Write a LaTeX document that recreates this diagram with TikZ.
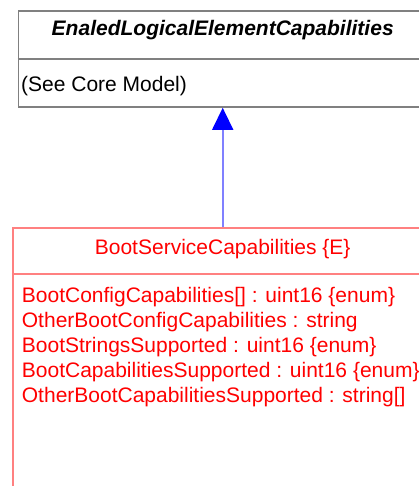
\documentclass[tikz,border=0pt]{standalone}
\usepackage{fontspec}
\setmainfont{Liberation Sans}
\usetikzlibrary{arrows.meta,positioning}
\definecolor{boxgray}{RGB}{128,128,128}
\definecolor{boxpink}{RGB}{255,128,128}
\definecolor{linkblue}{RGB}{128,128,255}

\begin{document}
\begin{tikzpicture}[x=1pt,y=1pt,
    umlbox/.style={draw,rectangle,inner sep=0pt,line width=1.6pt},
    umltext/.style={inner sep=0pt,font=\fontsize{21}{25}\selectfont},
    inherit/.style={linkblue,line width=1.6pt,-{Triangle[length=22pt,width=21pt,blue]}}]
  \useasboundingbox (0,0) rectangle (419,-486);
  \clip (0,0) rectangle (419,-486);
  % superclass
  \node[umlbox,boxgray,minimum width=408.8pt,minimum height=96pt] (enabled) at (222.7,-59) {};
  \draw[boxgray,line width=1.6pt] (enabled.west) -- (enabled.east);
  \node[umltext,anchor=base] (enabledname) at (222.7,-36) {\textbf{\textit{EnaledLogicalElementCapabilities}}};
  \node[umltext,anchor=base west] (enabledprops) at (21,-92) {(See Core Model)};
  % boot service class
  \node[umlbox,boxpink,minimum width=420pt,minimum height=320pt,anchor=north] (boot) at (222.7,-227) {};
  \draw[boxpink,line width=1.6pt] ([yshift=-47pt]boot.north west) -- ([yshift=-47pt]boot.north east);
  \node[umltext,anchor=base,red] (bootname) at (222.7,-254) {BootServiceCapabilities \{E\}};
  \foreach \attr [count=\i] in {BootConfigCapabilities[] : uint16 \{enum\},
      OtherBootConfigCapabilities : string,
      BootStringsSupported : uint16 \{enum\},
      BootCapabilitiesSupported : uint16 \{enum\},
      OtherBootCapabilitiesSupported : string[]}
    \node[umltext,anchor=base west,red] (attr\i) at (21.7,{-302-25.2*(\i-1)}) {\attr};
  % generalization
  \draw[inherit] (boot.north) -- (enabled.south);
\end{tikzpicture}
\end{document}
